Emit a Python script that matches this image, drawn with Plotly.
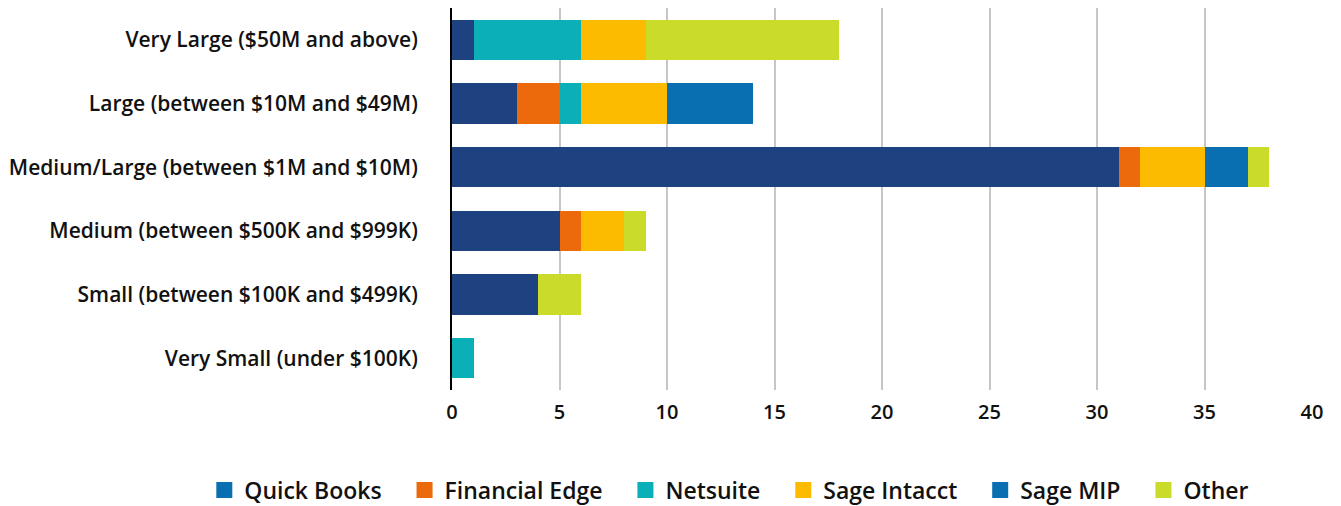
import plotly.graph_objects as go

categories = [
    "Very Large ($50M and above)",
    "Large (between $10M and $49M)",
    "Medium/Large (between $1M and $10M)",
    "Medium (between $500K and $999K)",
    "Small (between $100K and $499K)",
    "Very Small (under $100K)",
]
series_names = ["Quick Books", "Financial Edge", "Netsuite", "Sage Intacct", "Sage MIP", "Other"]
quick_books    = [1, 3, 31, 5, 4, 0]
financial_edge = [0, 2, 1, 1, 0, 0]
netsuite       = [5, 1, 0, 0, 0, 1]
sage_intacct   = [3, 4, 3, 2, 0, 0]
sage_mip       = [0, 4, 2, 0, 0, 0]
other          = [9, 0, 1, 1, 2, 0]
x_ticks = [0, 5, 10, 15, 20, 25, 30, 35, 40]

values = [quick_books, financial_edge, netsuite, sage_intacct, sage_mip, other]
bar_colors = ["#1e4180", "#ec6a0c", "#0aafb8", "#fdbb00", "#0a6fb0", "#cbdb2a"]
legend_colors = ["#0a6fb0", "#ec6a0c", "#0aafb8", "#fdbb00", "#0a6fb0", "#cbdb2a"]

FONT = "Open Sans"
PAD = "\u00a0\u00a0\u00a0"  # extra spacing between legend entries

fig = go.Figure()
for name, vals, col in zip(series_names, values, bar_colors):
    fig.add_trace(go.Bar(
        y=categories, x=vals, name=name, orientation="h",
        marker=dict(color=col, line=dict(width=0)),
        showlegend=False,
    ))
for i, (name, col) in enumerate(zip(series_names, legend_colors)):
    label = name if i == len(series_names) - 1 else name + PAD
    fig.add_trace(go.Scatter(
        x=[None], y=[None], mode="markers", name=label,
        marker=dict(symbol="square", size=16, color=col),
        showlegend=True,
    ))

fig.update_layout(
    barmode="stack",
    bargap=0.37,
    width=1341, height=506,
    margin=dict(l=452, r=29, t=8, b=116, autoexpand=False),
    paper_bgcolor="white", plot_bgcolor="white",
    font=dict(family=FONT, size=20, color="#111111", weight=600),
    legend=dict(
        orientation="h", x=-0.288, xanchor="left",
        y=-0.262, yanchor="middle",
        font=dict(size=23, family=FONT, weight=600),
        itemsizing="trace", traceorder="normal",
    ),
)
fig.update_xaxes(
    range=[0, 40], tickvals=x_ticks, showgrid=True, gridcolor="#c6c6c6", gridwidth=2,
    zeroline=False, showline=False, tickfont=dict(size=20),
    ticks="", ticklabelstandoff=8, automargin=False,
)
fig.update_yaxes(
    categoryorder="array", categoryarray=categories[::-1],
    showline=True, linecolor="black", linewidth=2,
    showgrid=False, ticks="", ticklabelstandoff=28,
    tickfont=dict(size=21), automargin=False,
)
fig.write_html("out.html", config={"displayModeBar": False},
               post_script="document.body.style.margin='0';")
